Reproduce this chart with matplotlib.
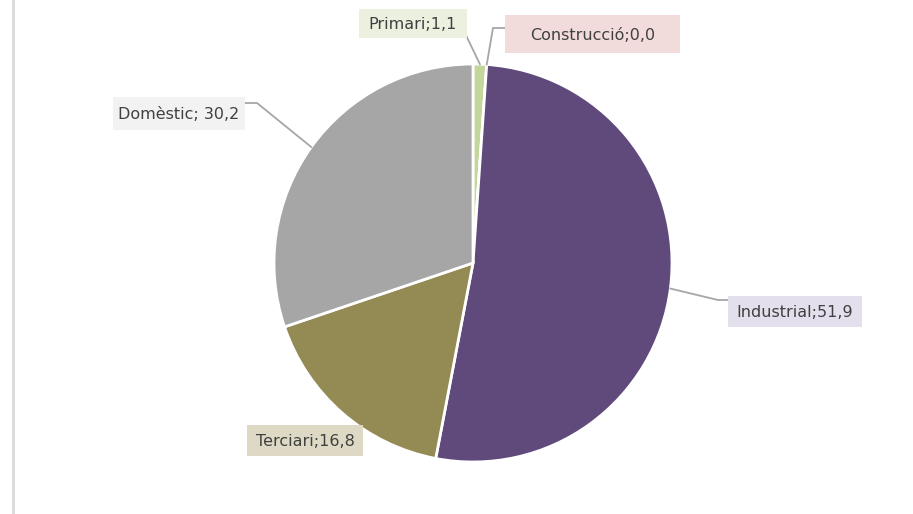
import numpy as np
import matplotlib
matplotlib.use("Agg")
import matplotlib.pyplot as plt
from matplotlib.lines import Line2D
from matplotlib.patches import Rectangle

# data
categories = ["Primari", "Construcció", "Industrial", "Terciari", "Domèstic"]
values = [1.1, 0.0, 51.9, 16.8, 30.2]
value_labels = ["1,1", "0,0", "51,9", "16,8", "30,2"]
slice_colors = ["#c3d69b", "#d99694", "#604a7b", "#948a54", "#a6a6a6"]
label_bg = ["#ebf1de", "#f2dcdb", "#e4dfec", "#ddd9c4", "#f2f2f2"]

W, H = 913, 514
cx, cy, R = 473, H - 263, 199

fig = plt.figure(figsize=(W / 100, H / 100), dpi=100)
ax = fig.add_axes([0, 0, 1, 1])

wedges, _ = ax.pie(values, colors=slice_colors, startangle=90, counterclock=False,
                   center=(cx, cy), radius=R,
                   wedgeprops=dict(edgecolor="white", linewidth=2))
ax.set_xlim(0, W)
ax.set_ylim(0, H)
ax.set_aspect("equal")
ax.axis("off")

# label boxes: left, top, width, height (pixels from top-left)
label_box = {
    "Primari": (359, 9, 108, 29),
    "Construcció": (505, 15, 175, 38),
    "Industrial": (728, 296, 134, 31),
    "Terciari": (247, 425, 116, 31),
    "Domèstic": (113, 97, 132, 33),
}
leader = {
    "Primari": [(463, 29)],
    "Construcció": [(505, 28), (493, 28)],
    "Industrial": [(728, 300), (718, 300)],
    "Domèstic": [(245, 103), (257, 103)],
}
seps = {"Domèstic": "; "}

for i, (name, w) in enumerate(zip(categories, wedges)):
    mid = np.deg2rad((w.theta1 + w.theta2) / 2)
    px, py = cx + R * np.cos(mid), cy + R * np.sin(mid)
    if name in leader:
        pts = [(x, H - y) for x, y in leader[name]] + [(px, py)]
        xs, ys = zip(*pts)
        ax.add_line(Line2D(xs, ys, color="#a6a6a6", linewidth=1.3, zorder=1))
    bx, by, bw, bh = label_box[name]
    ax.add_patch(Rectangle((bx, H - by - bh), bw, bh, fc=label_bg[i], ec="none", zorder=2))
    ax.text(bx + bw / 2, H - by - bh / 2 - 1, f"{name}{seps.get(name, ';')}{value_labels[i]}",
            ha="center", va="center", fontsize=11.5, color="#404040", zorder=3)

# left border of the chart area
fig.add_artist(Line2D([12.5 / W, 12.5 / W], [1 / H, 1], color="#d9d9d9", linewidth=2,
                      transform=fig.transFigure))

fig.savefig("out.png", dpi=100)
